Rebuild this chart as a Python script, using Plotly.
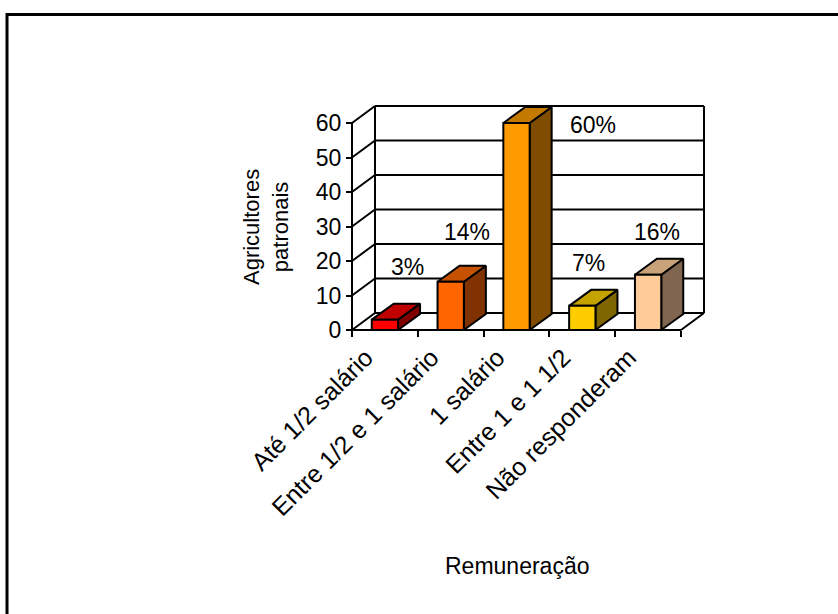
import plotly.graph_objects as go

# ---- data ----
categories = ["Até 1/2 salário", "Entre 1/2 e 1 salário", "1 salário",
              "Entre 1 e 1 1/2", "Não responderam"]
values = [3, 14, 60, 7, 16]
value_labels = ["3%", "14%", "60%", "7%", "16%"]
y_ticks = [0, 10, 20, 30, 40, 50, 60]

# ---- styles ----
front_colors = ["#FF0000", "#FF6600", "#FF9900", "#FFCC00", "#FFCC99"]
top_colors = ["#C00000", "#C45200", "#C47A00", "#C4A300", "#C8A37A"]
side_colors = ["#800000", "#803300", "#804D00", "#806600", "#806650"]

# where each value label sits relative to its bar (category units, value units)
label_dx = [0.35, 0.25, 1.16, 0.09, 0.135]
label_dy = [15.3, 14.4, -0.6, 12.4, 12.4]

FONT = "Arial, 'Liberation Sans', sans-serif"
FS_TICK = 23
FS_CAT = 25
FS_VALUE = 23
FS_YTITLE = 22
FS_XTITLE = 23

# ---- page geometry (pixels) ----
FIG_W, FIG_H = 838, 614
ORIGIN_X, ORIGIN_Y = 352, 330        # front-left corner of the floor
PX_PER_CAT = 65.8
PX_PER_UNIT = 3.45
DOM_L, DOM_R, DOM_T, DOM_B = 328, 722, 88, 346

# oblique depth of the walls and of the columns, in data units
DX = 23 / PX_PER_CAT
DY = 17 / PX_PER_UNIT
BAR_HALF = 0.2
BAR_DX = 22 / PX_PER_CAT
BAR_DY = 16 / PX_PER_UNIT

n = len(categories)
x_left, x_right = -0.5, n - 0.5
y_top = max(y_ticks)

xmin = x_left + (DOM_L - ORIGIN_X) / PX_PER_CAT
xmax = x_left + (DOM_R - ORIGIN_X) / PX_PER_CAT
ymin = (ORIGIN_Y - DOM_B) / PX_PER_UNIT
ymax = (ORIGIN_Y - DOM_T) / PX_PER_UNIT


def segs(pairs):
    xs, ys = [], []
    for (x0, y0), (x1, y1) in pairs:
        xs += [x0, x1, None]
        ys += [y0, y1, None]
    return xs, ys


fig = go.Figure()
line_style = dict(color="black", width=2)

# back wall with its gridlines, side wall diagonals, floor and front axis
frame = []
for v in y_ticks:
    frame.append(((x_left + DX, v + DY), (x_right + DX, v + DY)))
    frame.append(((x_left, v), (x_left + DX, v + DY)))
frame.append(((x_left + DX, DY), (x_left + DX, y_top + DY)))
frame.append(((x_right + DX, DY), (x_right + DX, y_top + DY)))
frame.append(((x_left, 0), (x_left, y_top)))
frame.append(((x_left, 0), (x_right, 0)))
frame.append(((x_right, 0), (x_right + DX, DY)))
fx, fy = segs(frame)
fig.add_trace(go.Scatter(x=fx, y=fy, mode="lines", line=line_style,
                         hoverinfo="skip", showlegend=False))

# 3-D columns: side, top and front faces
for i, v in enumerate(values):
    xl, xr = i - BAR_HALF, i + BAR_HALF
    side = ([xr, xr + BAR_DX, xr + BAR_DX, xr, xr],
            [0, BAR_DY, v + BAR_DY, v, 0])
    top = ([xl, xr, xr + BAR_DX, xl + BAR_DX, xl],
           [v, v, v + BAR_DY, v + BAR_DY, v])
    front = ([xl, xr, xr, xl, xl], [0, 0, v, v, 0])
    for (px, py), col in ((side, side_colors[i]), (top, top_colors[i]),
                          (front, front_colors[i])):
        fig.add_trace(go.Scatter(x=px, y=py, mode="lines", fill="toself",
                                 fillcolor=col, line=line_style,
                                 hoverinfo="skip", showlegend=False))

# value labels
for i, v in enumerate(values):
    fig.add_annotation(x=i + label_dx[i], y=v + label_dy[i], xref="x", yref="y",
                       text=value_labels[i], showarrow=False,
                       font=dict(family=FONT, size=FS_VALUE, color="black"))

# axis titles
fig.add_annotation(x=266 / FIG_W, y=1 - 227 / FIG_H, xref="paper", yref="paper",
                   text="Agricultores<br>patronais", textangle=-90,
                   showarrow=False, xanchor="center", yanchor="middle",
                   font=dict(family=FONT, size=FS_YTITLE, color="black"))
fig.add_annotation(x=517 / FIG_W, y=1 - 566 / FIG_H, xref="paper", yref="paper",
                   text="Remuneração", showarrow=False,
                   xanchor="center", yanchor="middle",
                   font=dict(family=FONT, size=FS_XTITLE, color="black"))

# chart-area border
fig.add_shape(type="rect", xref="paper", yref="paper",
              x0=7 / FIG_W, y0=-0.2, x1=1.2, y1=1 - 14.5 / FIG_H,
              line=dict(color="black", width=3), fillcolor="rgba(0,0,0,0)")

fig.update_layout(
    width=FIG_W, height=FIG_H,
    margin=dict(l=0, r=0, t=0, b=0, autoexpand=False),
    paper_bgcolor="white", plot_bgcolor="white",
    font=dict(family=FONT, size=FS_TICK, color="black"),
    hovermode=False, showlegend=False,
    xaxis=dict(domain=[DOM_L / FIG_W, DOM_R / FIG_W], range=[xmin, xmax],
               anchor="free", position=1 - ORIGIN_Y / FIG_H, automargin=False,
               tickmode="array", tickvals=[i - 0.29 for i in range(n)],
               ticktext=categories, tickangle=-45, ticks="",
               ticklabelstandoff=7,
               showgrid=False, zeroline=False, showline=False,
               minor=dict(tickmode="array",
                          tickvals=[i - 0.5 for i in range(n + 1)],
                          ticks="outside", ticklen=6, tickwidth=2,
                          tickcolor="black", showgrid=False),
               tickfont=dict(family=FONT, size=FS_CAT, color="black")),
    yaxis=dict(domain=[1 - DOM_B / FIG_H, 1 - DOM_T / FIG_H], range=[ymin, ymax],
               anchor="free", position=ORIGIN_X / FIG_W, automargin=False,
               tickmode="array", tickvals=y_ticks, ticks="outside",
               ticklen=6, tickwidth=2, tickcolor="black",
               showgrid=False, zeroline=False, showline=False,
               tickfont=dict(family=FONT, size=FS_TICK, color="black")),
)

fig.write_html("out.html")
